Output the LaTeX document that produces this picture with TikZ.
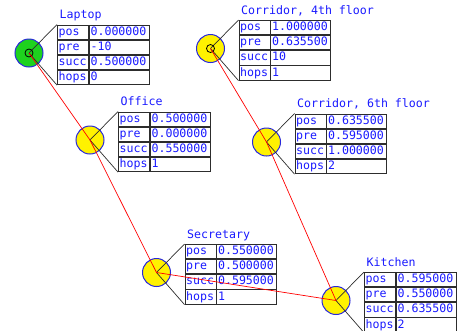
\documentclass[tikz,border=0pt]{standalone}
\usepackage{fontspec}
\setmonofont{DejaVu Sans Mono}
\usetikzlibrary{calc}
\definecolor{txtblue}{RGB}{25,25,255}
\definecolor{rimblue}{RGB}{40,40,220}
\definecolor{startgreen}{RGB}{30,210,30}
\definecolor{gridgray}{RGB}{45,45,45}
\tikzset{
  stn/.style={circle, draw=rimblue, line width=1pt, minimum size=28pt, inner sep=0pt},
  ring/.style={circle, draw=black, line width=0.8pt, minimum size=8pt, inner sep=0pt},
  cell/.style={draw=gridgray, line width=0.9pt, minimum height=14.25pt, inner sep=0pt,
    inner xsep=1.2pt, align=left, anchor=north west, text=txtblue,
    font=\ttfamily\fontsize{11.6}{11.6}\selectfont, text height=8.2pt, text depth=2pt},
  keycell/.style={cell, text width=28.6pt},
  valcell/.style={cell, text width=57.6pt},
  lbl/.style={inner sep=0pt, anchor=base west, text=txtblue,
    font=\ttfamily\fontsize{11.6}{11.6}\selectfont},
  spoke/.style={draw=gridgray, line width=0.7pt},
  route/.style={draw=red, line width=0.7pt},
}
% one station: name, centre, fill, caption, pos, pre, succ, hops
\newcommand\station[8]{%
  \node[stn, fill=#3] (#1) at (#2) {};
  \node[keycell] (#1-k1) at ($(#1.center)+(28,-28.5)$) {pos};
  \node[valcell] (#1-v1) at (#1-k1.north east) {#5};
  \node[keycell] (#1-k2) at (#1-k1.south west) {pre};
  \node[valcell] (#1-v2) at (#1-k2.north east) {#6};
  \node[keycell] (#1-k3) at (#1-k2.south west) {succ};
  \node[valcell] (#1-v3) at (#1-k3.north east) {#7};
  \node[keycell] (#1-k4) at (#1-k3.south west) {hops};
  \node[valcell] (#1-v4) at (#1-k4.north east) {#8};
  \node[lbl] (#1-cap) at ($(#1-k1.north west)+(2.5pt,6pt)$) {#4};
  \draw[spoke] (#1.center) -- (#1-k1.north west);
  \draw[spoke] (#1.center) -- (#1-k4.south west);
}
\begin{document}
\begin{tikzpicture}[x=1pt, y=-1pt]
  \useasboundingbox (0,0) rectangle (457,330);
  \station{lap}{29,53}{startgreen}{Laptop}{0.000000}{-10}{0.500000}{0}
  \station{c4}{210.5,48.5}{yellow}{Corridor, 4th floor}{1.000000}{0.635500}{10}{1}
  \station{off}{90,140}{yellow}{Office}{0.500000}{0.000000}{0.550000}{1}
  \station{c6}{266.5,142}{yellow}{Corridor, 6th floor}{0.635500}{0.595000}{1.000000}{2}
  \station{sec}{156.5,272.5}{yellow}{Secretary}{0.550000}{0.500000}{0.595000}{1}
  \station{kit}{336,300.5}{yellow}{Kitchen}{0.595000}{0.550000}{0.635500}{2}
  \node[ring] (lap-ring) at (lap.center) {};
  \node[ring] (c4-ring) at (c4.center) {};
  \draw[route] (lap.center) -- (off.center) -- (sec.center) -- (kit.center)
    -- (c6.center) -- (c4.center);
\end{tikzpicture}
\end{document}
